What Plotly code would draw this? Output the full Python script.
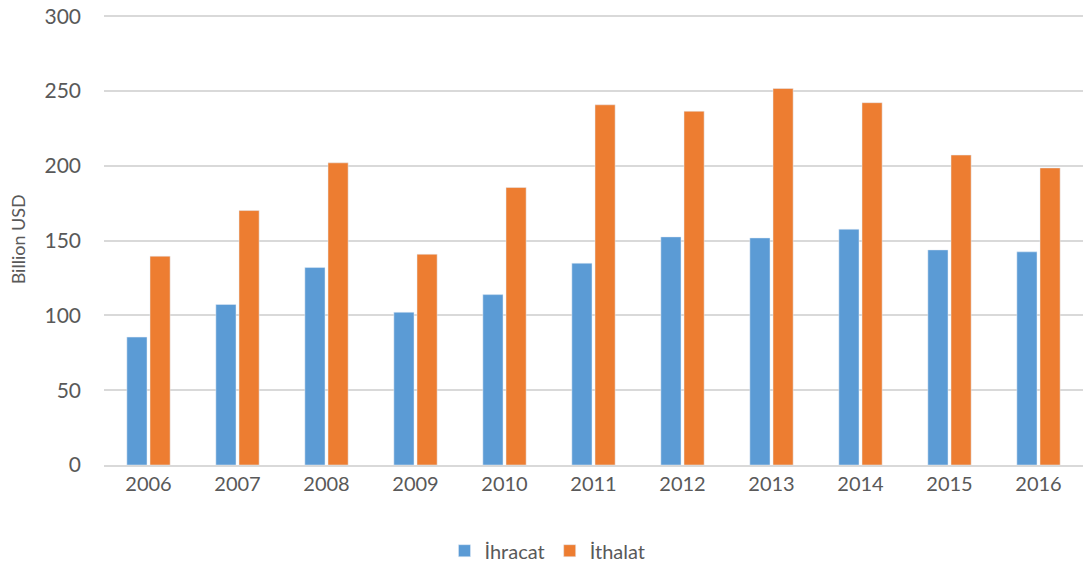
import plotly.graph_objects as go

years = ["2006", "2007", "2008", "2009", "2010", "2011", "2012", "2013", "2014", "2015", "2016"]
ihracat = [85.5, 107.3, 132.0, 102.1, 113.9, 134.9, 152.5, 151.8, 157.6, 143.8, 142.5]
ithalat = [139.6, 170.1, 202.0, 140.9, 185.5, 240.8, 236.5, 251.7, 242.2, 207.2, 198.6]

font_fam = "Lato, Open Sans, sans-serif"
txt = "#595959"

fig = go.Figure()
fig.add_trace(go.Bar(x=years, y=ihracat, name="İhracat", marker_color="#5b9bd5"))
fig.add_trace(go.Bar(x=years, y=ithalat, name="İthalat", marker_color="#ed7d31"))

fig.update_layout(
    width=1086, height=567,
    paper_bgcolor="white", plot_bgcolor="white",
    margin=dict(l=104, r=3, t=14, b=102, autoexpand=False),
    barmode="group", bargap=0.48, bargroupgap=0.13,
    font=dict(family=font_fam, color=txt, size=20),
    legend=dict(orientation="h", x=0.453, xanchor="center", y=-0.19, yanchor="middle",
                font=dict(size=20, color=txt), itemwidth=30, traceorder="normal"),
    xaxis=dict(type="category", showgrid=False, showline=True, linecolor="#d9d9d9", linewidth=1.5,
               ticks="", tickfont=dict(size=20, color=txt), automargin=False),
    yaxis=dict(range=[0, 301.5], tickvals=[0, 50, 100, 150, 200, 250, 300], showgrid=True,
               gridcolor="#d9d9d9", gridwidth=1.5, ticklabeloverflow="allow",
               zeroline=False, showline=False, ticks="", ticklabelstandoff=22,
               tickfont=dict(size=21, color=txt), automargin=False),
    annotations=[dict(text="Billion USD", xref="paper", yref="paper", x=-0.088, y=0.5,
                      textangle=-90, showarrow=False, xanchor="center", yanchor="middle",
                      font=dict(size=18, color=txt))],
)

fig.write_html("out.html", config={"displayModeBar": False},
               post_script="document.body.style.margin='0';")
